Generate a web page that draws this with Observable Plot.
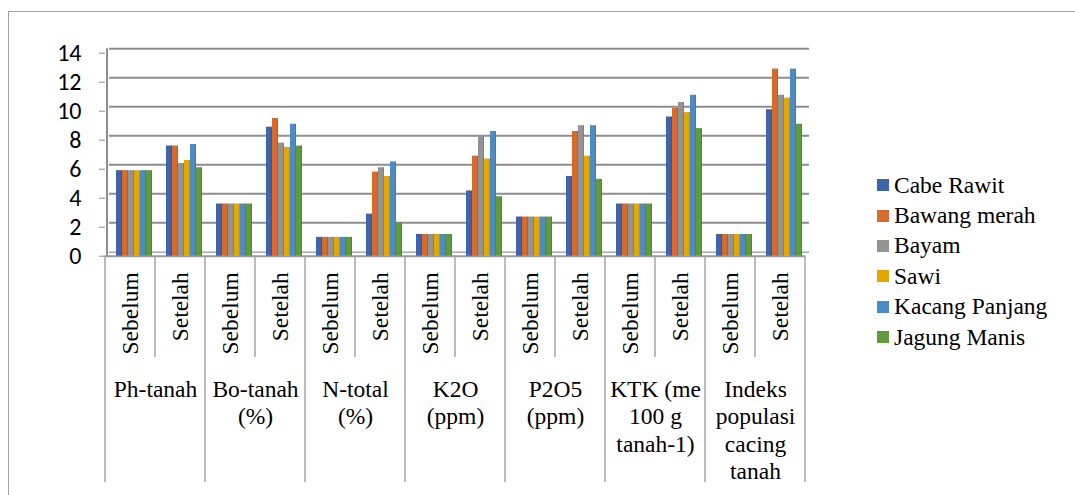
<!DOCTYPE html>
<html>
<head>
<meta charset="utf-8">
<script src="https://cdn.jsdelivr.net/npm/d3@7"></script>
<script src="https://cdn.jsdelivr.net/npm/@observablehq/plot@0.6"></script>
<style>
  html, body { margin: 0; padding: 0; background: #fff; }
  #wrap { position: relative; width: 1075px; height: 495px; overflow: hidden; background: #fff; }
  #border { position: absolute; left: 8px; top: 11px; right: -5px; bottom: -5px;
            border-top: 1.5px solid #a3a3a3; border-left: 1.5px solid #a3a3a3; }
  #chart { position: absolute; left: 0; top: 0; }
  #legend { position: absolute; left: 877px; top: 170px; font-family: 'Liberation Serif';
            font-size: 23.5px; color: #000; }
  #legend .row { display: flex; align-items: center; height: 30.4px; white-space: nowrap; }
  #legend .sw { width: 12px; height: 12px; margin-right: 5px; flex: none; }
</style>
</head>
<body>
<div id="wrap">
  <div id="border"></div>
  <div id="chart"></div>
  <div id="legend"></div>
</div>
<script>
// ---- data ----
const groupLabels = ["Ph-tanah", "Bo-tanah\n(%)", "N-total\n(%)", "K2O\n(ppm)", "P2O5\n(ppm)", "KTK (me\n100 g\ntanah-1)", "Indeks\npopulasi\ncacing\ntanah"];
const subLabels = ["Sebelum", "Setelah"];
const seriesNames = ["Cabe Rawit", "Bawang merah", "Bayam", "Sawi", "Kacang Panjang", "Jagung Manis"];
const seriesColors = ["#3d64ad", "#d86a2b", "#939393", "#e3a700", "#4d8bc5", "#5f9a3d"];
const yTicks = [0, 2, 4, 6, 8, 10, 12, 14];

// values per series, in order: group1 Sebelum, group1 Setelah, group2 Sebelum, ...
const cabeRawit     = [5.9, 7.6, 3.6, 8.9, 1.3, 2.9, 1.5, 4.5, 2.7, 5.5, 3.6, 9.6, 1.5, 10.1];
const bawangMerah   = [5.9, 7.6, 3.6, 9.5, 1.3, 5.8, 1.5, 6.9, 2.7, 8.6, 3.6, 10.2, 1.5, 12.9];
const bayam         = [5.9, 6.4, 3.6, 7.8, 1.3, 6.1, 1.5, 8.3, 2.7, 9.0, 3.6, 10.6, 1.5, 11.1];
const sawi          = [5.9, 6.6, 3.6, 7.5, 1.3, 5.5, 1.5, 6.7, 2.7, 6.9, 3.6, 9.9, 1.5, 10.9];
const kacangPanjang = [5.9, 7.7, 3.6, 9.1, 1.3, 6.5, 1.5, 8.6, 2.7, 9.0, 3.6, 11.1, 1.5, 12.9];
const jagungManis   = [5.9, 6.1, 3.6, 7.6, 1.3, 2.3, 1.5, 4.1, 2.7, 5.3, 3.6, 8.8, 1.5, 9.1];
const seriesValues = [cabeRawit, bawangMerah, bayam, sawi, kacangPanjang, jagungManis];

// ---- build table ----
const keys = [];
groupLabels.forEach((g, gi) => subLabels.forEach(s => keys.push(`${gi}|${s}`)));
const rows = [];
seriesNames.forEach((name, si) => {
  seriesValues[si].forEach((v, ki) => rows.push({key: keys[ki], series: name, value: v}));
});
const groupRows = groupLabels.map((g, gi) => ({key: `${gi}|${subLabels[0]}`, label: g}));

const W = 1075, H = 495;
const mL = 101, mR = 266, mT = 52.7, mB = 239.3;
const gridColor = "#8d8d8d";
const serif = "Liberation Serif";

const plot = Plot.plot({
  width: W, height: H,
  marginLeft: mL, marginRight: mR, marginTop: mT, marginBottom: mB,
  style: {background: "transparent", overflow: "visible"},
  fx: {domain: keys, paddingInner: 0, paddingOuter: 0, label: null},
  x: {domain: seriesNames, paddingInner: 0, paddingOuter: 0.6, axis: null},
  y: {domain: [0, 14], label: null},
  color: {domain: seriesNames, range: seriesColors},
  marks: [
    // back-wall gridlines
    Plot.ruleY(yTicks.slice(1), {stroke: gridColor, strokeWidth: 2, dy: -4.5, dx: 4}),
    // floor
    Plot.ruleY([0], {stroke: "#a9a9a9", strokeWidth: 1.5, dy: -4, dx: 4}),
    Plot.ruleY([0], {stroke: "#9a9a9a", strokeWidth: 2}),
    // bars
    Plot.barY(rows, {fx: "key", x: "series", y: "value", fill: "series", dx: 4}),
    Plot.barY(rows, {fx: "key", x: "series", y: "value", fill: "#000", fillOpacity: 0.22, insetLeft: 5.4, dx: 4}),
    // y axis
    Plot.axisY({ticks: yTicks, tickSize: 6, tickPadding: 18, stroke: gridColor, fontSize: 24,
                fontFamily: "Carlito", fill: "#000", label: null, facetAnchor: "left"}),
    // sub-category labels
    Plot.axisFx({anchor: "bottom", tickSize: 0, tickPadding: 16, tickRotate: -90,
                 tickFormat: k => k.split("|")[1], fontSize: 23.5, fontFamily: serif, fill: "#000", label: null}),
    // group labels
    Plot.text(groupRows, {fx: "key", text: "label", frameAnchor: "bottom-right", textAnchor: "middle",
                          lineAnchor: "top", dy: 121, fontSize: 23.5, fontFamily: serif, lineHeight: 1.17, fill: "#000"})
  ]
});
document.getElementById("chart").appendChild(plot);

// separators and y-axis wall line, drawn with Plot's own scales
const fx = plot.scale("fx");
const y = plot.scale("y");
const svg = d3.select(plot);
const g = svg.append("g").attr("stroke", "#a6a6a6").attr("stroke-width", 1.5);
const y0 = y.apply(0);
keys.forEach((k, i) => {
  const x = fx.apply(k);
  const isGroupStart = i % 2 === 0;
  g.append("line").attr("x1", x).attr("x2", x).attr("y1", y0).attr("y2", isGroupStart ? 482 : 357);
});
const xEnd = fx.apply(keys[keys.length - 1]) + fx.bandwidth;
g.append("line").attr("x1", xEnd).attr("x2", xEnd).attr("y1", y0).attr("y2", 482);
// y wall
const xWall = fx.apply(keys[0]) + 2;
svg.append("line").attr("x1", xWall).attr("x2", xWall).attr("y1", y.apply(14) - 4.5).attr("y2", y0)
   .attr("stroke", gridColor).attr("stroke-width", 2);

// legend
const legend = d3.select("#legend");
seriesNames.forEach((name, i) => {
  const row = legend.append("div").attr("class", "row");
  row.append("div").attr("class", "sw").style("background", seriesColors[i]);
  row.append("span").text(name);
});
</script>
</body>
</html>
